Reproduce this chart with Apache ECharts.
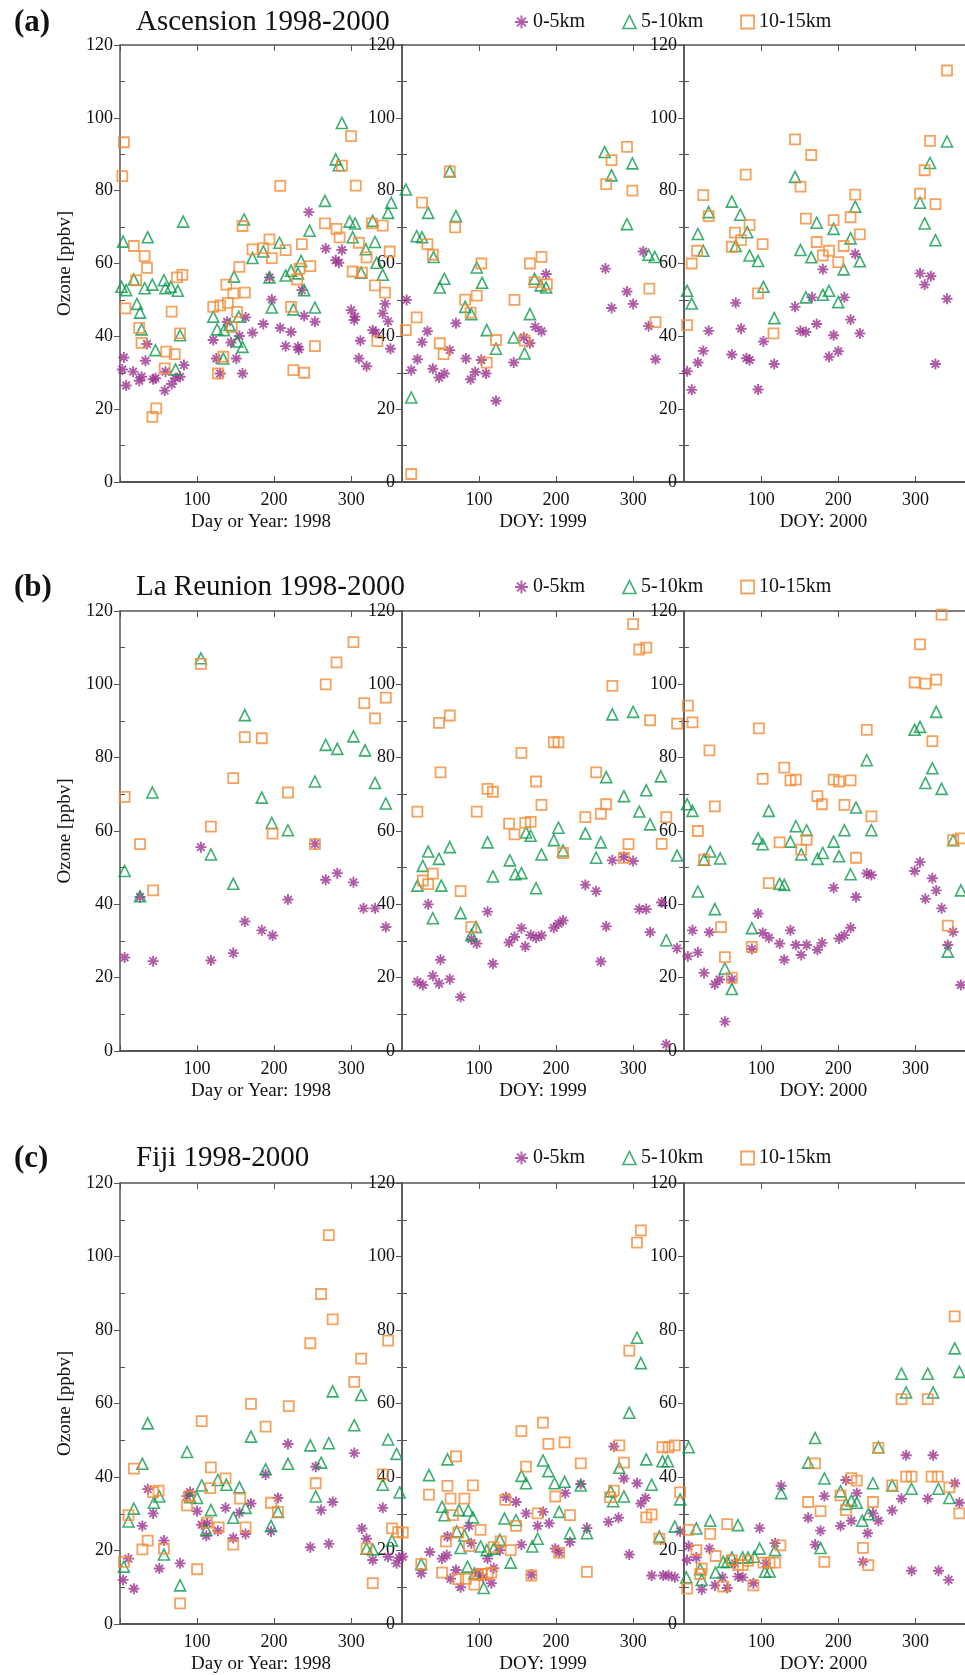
<!DOCTYPE html>
<html>
<head>
<meta charset="utf-8">
<script src="https://cdn.jsdelivr.net/npm/echarts@6.0.0/dist/echarts.min.js"></script>
<style>
  html, body { margin: 0; padding: 0; background: #fff; }
  #main { width: 965px; height: 1675px; }
</style>
</head>
<body>
<div id="main"></div>
<script>
// ozone by altitude layer, [day of year, ppbv]

// Ascension
const asc98Low = [[5,34.2],[3,30.9],[8,26.5],[17,30.3],[25,27.8],[28,28.9],[33,33.3],[35,37.9],[43,28.2],[46,28.5],[58,25.1],[59,30.3],[67,26.9],[72,28.5],[78,28.9],[83,32.1],[121,39],[125,33.9],[130,29.8],[139,44],[144,38.3],[151,33.9],[155,40.1],[159,29.8],[163,45.2],[172,41],[186,43.4],[194,56.2],[197,50.1],[208,42.3],[215,37.3],[222,41.2],[231,37.1],[232,36.4],[236,52.7],[239,45.6],[245,74.1],[253,44],[267,64.1],[280,60.9],[284,60.2],[288,63.7],[300,47.2],[304,44.5],[305,45.4],[310,33.9],[312,38.8],[320,31.8],[328,41.7],[332,41],[341,46.3],[344,48.9],[348,44.1],[351,36.6]];
const asc98Mid = [[4,66],[2,53.6],[8,52.7],[18,55.6],[22,48.9],[26,46.5],[28,41.9],[32,53.2],[36,67.2],[42,54.2],[46,36.2],[57,55.4],[59,53.2],[66,53.6],[72,30.9],[75,52.5],[78,40.3],[82,71.5],[121,45.4],[126,41.9],[134,33.9],[135,41.7],[142,43.1],[148,56.4],[152,38.6],[154,45.4],[159,37.1],[161,72.1],[172,61.5],[186,63.3],[194,56.2],[197,47.9],[207,65.7],[215,56.7],[222,58],[225,47.4],[231,57.3],[235,60.7],[239,52.7],[246,69],[253,47.9],[266,77.2],[280,88.6],[284,87],[288,98.6],[298,71.5],[302,67.2],[305,71],[313,57.5],[319,63.9],[328,71.7],[331,65.9],[333,60.2],[341,56.9],[348,73.9],[352,76.7]];
const asc98High = [[3,84],[5,93.3],[7,47.7],[18,64.8],[21,55.4],[25,42.3],[28,38.2],[32,62],[35,58.8],[42,17.9],[47,20.2],[58,31.2],[60,35.8],[67,46.8],[71,35.1],[74,56.2],[78,40.8],[81,56.9],[121,48.1],[127,29.8],[130,48.5],[134,34.4],[138,54.2],[140,49.2],[145,42.6],[147,51.8],[152,46.7],[155,59.1],[159,70.3],[162,52],[172,63.9],[186,64.2],[194,66.6],[197,61.5],[208,81.3],[215,63.7],[222,48.1],[225,30.7],[230,55.6],[233,58.6],[236,65.3],[239,30],[247,59.3],[253,37.3],[266,71],[281,69.5],[285,67.2],[288,86.9],[300,95],[302,57.8],[306,81.4],[310,65.7],[314,57.5],[320,61.7],[327,71],[331,54],[334,38.7],[341,70.4],[344,52],[350,63.3]];
const asc99Low = [[6,50],[12,30.7],[20,33.7],[26,38.4],[33,41.4],[40,31.1],[48,28.7],[55,29.8],[62,36.2],[70,43.6],[83,33.9],[89,28.2],[95,30.2],[103,33.5],[109,29.8],[122,22.3],[145,32.8],[158,39.7],[166,38.1],[173,42.6],[181,41.4],[187,57.1],[264,58.6],[272,47.8],[292,52.3],[300,48.9],[313,63.3],[320,42.8],[329,33.7]];
const asc99Mid = [[5,80.3],[12,23.2],[19,67.5],[26,67.2],[34,73.9],[41,61.8],[49,53.4],[55,55.8],[62,85.3],[70,73],[82,48.1],[90,46.1],[97,58.9],[104,54.7],[110,41.7],[122,36.6],[145,39.7],[159,35.3],[166,46.1],[172,55.8],[180,54],[187,53.4],[263,90.6],[272,84.2],[292,70.8],[299,87.5],[320,62.4],[328,61.8]];
const asc99High = [[5,41.7],[12,2.2],[19,45.2],[26,76.7],[33,65.3],[40,62.4],[49,38.1],[54,35.1],[62,85.3],[69,69.9],[82,50.1],[89,46.5],[97,51.2],[103,60],[110,32.8],[122,39],[146,50],[159,38.8],[166,60],[172,54.9],[181,61.8],[188,54.3],[265,81.8],[272,88.4],[292,92],[299,80],[321,53.1],[329,43.9]];
const asc00Low = [[4,30.4],[10,25.3],[18,32.8],[25,36],[32,41.5],[62,35],[67,49.2],[74,42.1],[81,34],[85,33.5],[96,25.4],[103,38.6],[117,32.4],[144,48.1],[151,41.5],[158,41.2],[166,50.7],[172,43.4],[180,58.4],[188,34.4],[194,40.3],[200,35.9],[208,50.7],[216,44.6],[222,62.6],[228,40.8],[306,57.3],[312,54.2],[320,56.5],[326,32.4],[341,50.3]];
const asc00Mid = [[4,52.5],[10,49],[18,68.1],[25,63.5],[32,74.1],[62,77],[67,64.8],[73,73.4],[82,68.6],[85,62.2],[96,60.7],[103,53.6],[117,45],[144,83.8],[151,63.7],[158,50.7],[165,61.7],[172,71.2],[180,51.4],[188,52.5],[194,69.5],[200,49.4],[207,58.4],[216,66.9],[222,75.6],[228,60.6],[306,76.7],[312,71],[319,87.6],[326,66.4],[341,93.5]];
const asc00High = [[4,43.1],[10,60],[17,63.5],[25,78.8],[32,73],[62,64.6],[66,68.5],[74,66.4],[80,84.4],[85,70.6],[96,51.8],[102,65.3],[116,40.8],[144,94.1],[151,81.1],[158,72.3],[165,89.8],[172,65.9],[180,62.2],[188,63.5],[194,71.9],[200,60.4],[207,64.8],[216,72.7],[222,78.9],[228,68],[306,79.2],[312,85.6],[319,93.7],[326,76.3],[341,113]];

// La Reunion
const reu98Low = [[6,25.5],[26,42],[43,24.5],[105,55.6],[118,24.7],[147,26.7],[162,35.3],[184,32.9],[198,31.5],[218,41.3],[253,56.5],[267,46.7],[282,48.5],[303,46],[316,38.9],[331,38.9],[345,33.8]];
const reu98Mid = [[6,49.1],[26,42.2],[42,70.5],[105,107.1],[118,53.6],[147,45.6],[162,91.6],[184,69.1],[197,62.2],[218,60.2],[253,73.5],[267,83.5],[282,82.4],[303,85.8],[318,82],[331,73.1],[345,67.5]];
const reu98High = [[6,69.3],[26,56.4],[43,43.8],[105,105.6],[118,61.2],[147,74.4],[162,85.6],[184,85.3],[198,59.3],[218,70.5],[253,56.4],[267,100],[281,106],[303,111.5],[317,94.9],[331,90.7],[345,96.4]];
const reu99Low = [[20,18.9],[27,18],[34,40],[40,20.5],[48,18.4],[50,24.9],[62,19.6],[76,14.7],[90,30.5],[97,29.3],[111,38],[118,23.8],[139,29.6],[146,31.1],[155,33.5],[160,28.5],[167,31.6],[174,30.9],[181,31.5],[197,33.6],[203,34.7],[209,35.6],[238,45.3],[252,43.6],[258,24.4],[265,34],[273,52],[288,52.9],[300,51.8],[308,38.7],[317,38.7],[322,32.4],[337,40.5],[343,1.8],[357,28]];
const reu99Mid = [[20,45.1],[27,50.5],[34,54.4],[40,36.2],[48,52.4],[51,45.1],[62,55.6],[76,37.6],[90,31.6],[96,33.8],[111,56.9],[118,47.6],[140,52],[147,48.2],[155,48.5],[161,59.6],[167,58.7],[174,44.4],[181,53.6],[197,57.5],[203,60.9],[209,54.7],[238,59.3],[252,52.7],[258,56.9],[265,74.7],[273,91.8],[288,69.5],[300,92.5],[308,65.3],[317,71.1],[322,61.8],[336,74.9],[343,30.2],[357,53.3]];
const reu99High = [[20,65.3],[27,46.5],[34,45.5],[40,48.4],[48,89.5],[50,76],[62,91.5],[76,43.6],[90,33.8],[97,65.3],[111,71.5],[118,70.7],[139,62],[146,59.1],[155,81.3],[160,62.2],[167,62.5],[174,73.5],[181,67.1],[197,84.2],[203,84.2],[209,54],[238,63.8],[252,76],[258,64.7],[265,67.3],[273,99.6],[288,52.7],[294,56.4],[300,116.4],[308,109.5],[317,110],[322,90.2],[337,56.5],[343,63.8],[357,89.3]];
const reu00Low = [[5,25.8],[11,32.9],[18,26.9],[26,21.3],[33,32.4],[40,18.2],[46,19.5],[53,8],[62,19.5],[88,27.8],[96,37.5],[102,32.2],[110,30.9],[124,29.3],[130,24.9],[138,32.9],[145,28.9],[152,26.2],[159,28.9],[173,27.6],[179,29.5],[194,44.5],[201,30.7],[208,31.6],[216,33.6],[223,42],[237,48.4],[243,48],[299,49.1],[306,51.5],[313,41.5],[322,47.1],[327,43.8],[334,38.9],[342,28.9],[349,32.5],[359,18]];
const reu00Mid = [[4,67.3],[11,65.5],[18,43.5],[26,52.2],[34,54.4],[40,38.7],[47,52.5],[53,22.5],[62,16.9],[88,33.5],[96,58],[102,56.4],[110,65.5],[124,45.6],[130,45.3],[138,57.1],[145,61.3],[152,53.6],[159,60.2],[173,52.4],[180,54],[194,57.1],[201,53.1],[208,60.2],[216,48.2],[223,66.4],[237,79.3],[243,60.2],[299,87.6],[306,88.4],[313,73.1],[322,77.1],[327,92.5],[334,71.5],[342,27.1],[349,57.5],[359,43.8]];
const reu00High = [[5,94.2],[11,89.6],[18,60],[26,52.2],[33,82],[40,66.7],[48,33.8],[53,25.6],[62,20],[88,28.4],[97,88],[102,74.2],[110,45.8],[124,56.9],[130,77.3],[138,73.8],[145,74],[152,54.9],[159,57.6],[173,69.5],[179,67.3],[194,74],[201,73.5],[208,67.1],[216,73.8],[223,52.7],[237,87.6],[243,64],[299,100.5],[306,110.9],[313,100.2],[322,84.5],[327,101.3],[334,119],[342,34.2],[349,57.5],[359,58]];

// Fiji
const fij98Low = [[4,12],[11,17.8],[18,9.6],[29,26.7],[36,36.7],[43,30.1],[51,15.1],[57,22.7],[78,16.5],[87,34.8],[91,35.9],[100,30.7],[106,27],[112,24],[113,27.4],[127,25.4],[137,31.6],[147,23.4],[155,30.3],[163,24.5],[170,32.8],[189,40.7],[196,25.2],[205,34.3],[218,49],[247,20.9],[254,42.8],[261,31],[271,21.8],[276,33.2],[304,46.5],[314,26],[320,23.2],[328,17.4],[341,31.6],[348,18.3],[359,16.5],[362,18]];
const fij98Mid = [[5,15.6],[11,27.9],[18,31.4],[29,43.6],[36,54.6],[44,33],[51,34.7],[57,18.9],[78,10.5],[87,46.8],[91,34.5],[100,34.3],[106,37.7],[112,25.6],[118,31],[127,39.2],[138,37.9],[147,28.9],[155,37.2],[163,31.6],[170,51],[189,42.1],[196,26.7],[205,30.5],[218,43.6],[247,48.6],[254,34.7],[261,43.9],[271,49.2],[276,63.3],[304,54.1],[313,62.3],[320,20.5],[328,20.3],[341,37.9],[348,50.2],[353,22.7],[359,46.3],[363,35.8]];
const fij98High = [[5,16.9],[11,29.6],[18,42.3],[29,20.3],[36,22.7],[43,35.9],[50,36.3],[57,20.5],[78,5.6],[87,32.3],[90,34.7],[100,14.9],[106,55.2],[113,27.6],[117,37],[118,42.6],[128,26.3],[137,39.6],[147,21.6],[156,34.1],[163,26.3],[170,59.9],[189,53.7],[196,33],[205,30.5],[219,59.3],[247,76.4],[254,38.3],[261,89.8],[271,105.8],[276,82.9],[304,65.9],[313,72.2],[320,20.5],[328,11.1],[341,40.7],[348,77.1],[353,26],[361,25]];
const fij99Low = [[1,18.3],[25,13.8],[36,19.6],[52,17.8],[58,18.7],[59,23.8],[63,12.3],[70,14.7],[76,10],[87,26.7],[90,22],[98,13.8],[105,12.7],[111,17.8],[116,11.1],[119,15.2],[127,20.1],[135,34.5],[148,33.2],[155,21.6],[161,30.1],[168,13.4],[176,26.7],[183,30.5],[191,27.4],[199,20.5],[204,19.4],[212,35.6],[218,22.3],[232,38.1],[240,26.1],[268,27.8],[275,48.3],[281,28.9],[288,39.6],[295,18.9],[305,38.3],[310,32.8],[316,34.3],[324,13.2],[339,13.2],[346,13.2],[354,12.7],[361,25.2]];
const fij99Mid = [[25,16.3],[35,40.5],[52,31.9],[55,29.6],[59,44.8],[71,25.2],[74,31],[76,20.7],[81,24.1],[85,15.6],[86,30.9],[92,29],[94,13.8],[102,21.1],[106,9.8],[110,20.1],[119,20.5],[127,22.9],[133,28.7],[141,16.7],[148,28.3],[155,40.3],[161,38.3],[169,21.1],[176,23.2],[183,44.5],[190,41.6],[198,38.3],[204,30.5],[211,38.7],[218,24.7],[232,37.7],[240,24.7],[271,36.1],[274,33.4],[282,42.5],[288,34.7],[295,57.5],[305,77.9],[310,71],[317,44.8],[324,37.9],[334,23.8],[338,44.3],[345,44.3],[354,26.5],[361,33.9]];
const fij99High = [[1,24.9],[25,16.3],[35,35.2],[52,14],[57,22.5],[59,37.6],[63,34.1],[66,29.6],[70,45.6],[73,24.9],[73,12.2],[81,34.1],[83,12.3],[87,21.2],[92,37.7],[94,10.7],[98,13.4],[102,25.6],[104,13.6],[111,13.6],[116,14],[119,20.9],[128,22.5],[134,33.8],[141,20.1],[148,26.7],[155,52.5],[161,42.8],[168,13.2],[176,30.1],[183,54.8],[190,49],[199,34.7],[204,19.4],[211,49.4],[218,29.6],[232,43.7],[240,14.2],[270,34.5],[275,36.3],[282,48.6],[288,43.9],[295,74.4],[305,103.8],[310,107.1],[317,29],[324,29.8],[334,23.2],[338,48.1],[346,48.1],[354,48.6],[361,35.8]];
const fij00Low = [[4,17.4],[6,21.2],[16,18.1],[23,9.4],[33,20.5],[40,10.5],[50,12.7],[56,9.8],[66,16.5],[70,12.9],[76,12.7],[90,11.1],[98,26.1],[106,16.5],[118,22],[126,37.6],[161,28.9],[170,21.6],[177,25.4],[182,34.8],[203,26.7],[210,39.2],[217,28.1],[224,35.6],[232,16.9],[238,24.7],[245,30.1],[252,28.1],[270,30.9],[282,34.1],[288,45.9],[295,14.5],[316,34.1],[323,45.9],[330,14.5],[343,12],[351,38.3],[357,33]];
const fij00Mid = [[3,12.7],[6,48.1],[16,26],[21,14.9],[23,12],[34,28.1],[41,14],[51,16.9],[56,16.9],[62,18.1],[70,26.9],[76,18.1],[83,18.1],[91,18.3],[98,20.5],[105,14.2],[111,14.3],[118,20.1],[126,35.6],[161,43.9],[170,50.6],[177,20.7],[182,39.6],[203,36.1],[210,32.7],[217,33.6],[224,33],[231,28.1],[239,29.9],[245,38.3],[252,48.1],[270,37.7],[282,68.1],[288,63],[295,36.8],[316,68.1],[323,63],[330,36.8],[344,34.3],[351,75],[357,68.6]];
const fij00High = [[4,9.6],[6,25.6],[16,20.1],[21,13.6],[23,15.1],[34,24.5],[41,18.5],[51,10.2],[56,27.2],[62,17.4],[70,16],[76,16],[83,17.2],[90,10.5],[103,16.7],[111,16.7],[118,16.7],[125,21.4],[161,33.2],[170,43.7],[177,30.7],[182,16.9],[203,35],[210,31],[217,39.7],[224,39],[232,20.7],[239,16],[245,33.2],[252,47.9],[270,37.7],[282,61.2],[288,40.1],[295,40.1],[316,61.2],[321,40.1],[329,40.1],[344,37.2],[351,83.7],[357,30.1]];

const layerNames = ["0-5km", "5-10km", "10-15km"];
const yearLabels = ["Day or Year: 1998", "DOY: 1999", "DOY: 2000"];

const serif = "'Liberation Serif', 'Times New Roman', 'DejaVu Serif', serif";
const purple = "#9b3590";
const green = "#0b9a4c";
const orange = "#f28b36";
const axisColor = "#555";
const asterisk = "path://M5,0L5,10M0,5L10,5M1.6,1.6L8.4,8.4M1.6,8.4L8.4,1.6";

// 每一行一个站点
const stations = [
  { tag: "(a)", title: "Ascension 1998-2000", top: 45, height: 437, head: 19,
    data: [[asc98Low, asc98Mid, asc98High], [asc99Low, asc99Mid, asc99High], [asc00Low, asc00Mid, asc00High]] },
  { tag: "(b)", title: "La Reunion 1998-2000", top: 611, height: 440, head: 584,
    data: [[reu98Low, reu98Mid, reu98High], [reu99Low, reu99Mid, reu99High], [reu00Low, reu00Mid, reu00High]] },
  { tag: "(c)", title: "Fiji 1998-2000", top: 1183, height: 441, head: 1155,
    data: [[fij98Low, fij98Mid, fij98High], [fij99Low, fij99Mid, fij99High], [fij00Low, fij00Mid, fij00High]] },
];
// 2000 年的面板在右边被裁掉：加宽并按比例放大 max，保持每天的像素宽度
const gridLefts = [120, 402, 684];
const gridWidths = [282, 282, 290];
const xMaxes = [366, 366, 376];

const layerStyle = [
  { symbol: asterisk, symbolSize: 11, itemStyle: { color: "transparent", borderColor: purple, borderWidth: 1.9 } },
  { symbol: "triangle", symbolSize: 11, itemStyle: { color: "transparent", borderColor: green, borderWidth: 1.6 } },
  { symbol: "rect", symbolSize: 10, itemStyle: { color: "transparent", borderColor: orange, borderWidth: 1.8 } },
];

const grid = [], xAxis = [], yAxis = [], series = [], title = [], legend = [];
const lineStyle = { color: axisColor, width: 1.5 };

stations.forEach((st, r) => {
  title.push({ text: st.tag, left: 9, top: st.head - 17,
    textStyle: { fontFamily: serif, fontSize: 31, fontWeight: "bold", color: "#111" } });
  title.push({ text: st.title, left: 131, top: st.head - 16,
    textStyle: { fontFamily: serif, fontSize: 29, fontWeight: "normal", color: "#111" } });
  legend.push({
    left: 509, top: st.head - 12, itemGap: 37, itemWidth: 13, itemHeight: 13,
    selectedMode: false,
    textStyle: { fontFamily: serif, fontSize: 20, color: "#111" },
    data: layerNames.map((n, k) => ({ name: n, icon: layerStyle[k].symbol,
      itemStyle: layerStyle[k].itemStyle })),
  });

  st.data.forEach((yearData, c) => {
    const g = grid.length;
    grid.push({ left: gridLefts[c], top: st.top, width: gridWidths[c], height: st.height,
      outerBoundsMode: "none", containLabel: false });
    const xMax = xMaxes[c];

    // 下方 x 轴
    xAxis.push({
      gridIndex: g, type: "value", position: "bottom", min: 0, max: xMax, interval: 100,
      name: yearLabels[c], nameLocation: "middle", nameGap: 31,
      nameTextStyle: { fontFamily: serif, fontSize: 19, color: "#111",
        padding: c === 2 ? [0, 11, 0, 0] : 0 },
      axisLine: { onZero: false, lineStyle: { color: axisColor, width: 2 } },
      axisTick: { inside: true, length: 6, lineStyle: { color: axisColor } },
      axisLabel: { margin: 9, fontFamily: serif, fontSize: 18, color: "#111",
        formatter: v => (v > 0 && v < 366 ? String(v) : "") },
      splitLine: { show: false },
    });
    // 上方 x 轴（只画刻度）
    xAxis.push({
      gridIndex: g, type: "value", position: "top", min: 0, max: xMax, interval: 100,
      axisLine: { onZero: false, lineStyle: lineStyle },
      axisTick: { inside: true, length: 6, lineStyle: { color: axisColor } },
      axisLabel: { show: false }, splitLine: { show: false },
    });
    // 左侧 y 轴：标签 + 外刻度
    yAxis.push({
      gridIndex: g, type: "value", position: "left", min: 0, max: 120, interval: 20,
      name: c === 0 ? "Ozone [ppbv]" : "", nameLocation: "middle", nameGap: 45,
      nameTextStyle: { fontFamily: serif, fontSize: 19, color: "#111" },
      axisLine: { onZero: false, lineStyle: lineStyle },
      axisTick: { inside: false, length: 6, lineStyle: { color: axisColor } },
      axisLabel: { margin: 7, fontFamily: serif, fontSize: 18, color: "#111" },
      splitLine: { show: false },
    });
    // 左侧内刻度
    yAxis.push({
      gridIndex: g, type: "value", position: "left", min: 0, max: 120, interval: 10,
      axisLine: { show: false, onZero: false },
      axisTick: { inside: true, length: 5, lineStyle: { color: axisColor }, customValues: [10, 30, 50, 70, 90, 110] },
      axisLabel: { show: false }, splitLine: { show: false },
    });
    // 右侧框线
    yAxis.push({
      gridIndex: g, type: "value", position: "right", min: 0, max: 120, interval: 10,
      axisLine: { onZero: false, lineStyle: lineStyle },
      axisTick: { inside: true, length: 5, lineStyle: { color: axisColor }, customValues: [10, 30, 50, 70, 90, 110] },
      axisLabel: { show: false }, splitLine: { show: false },
    });

    yearData.forEach((pts, k) => {
      series.push({
        type: "scatter", name: layerNames[k],
        xAxisIndex: 2 * g, yAxisIndex: 3 * g,
        data: pts,
        symbol: layerStyle[k].symbol, symbolSize: layerStyle[k].symbolSize,
        itemStyle: layerStyle[k].itemStyle,
        clip: false,
        emphasis: { disabled: true },
        z: 3,
      });
    });
  });
});

const chart = echarts.init(document.getElementById("main"));
chart.setOption({
  backgroundColor: "#fff",
  animation: false,
  title, legend, grid, xAxis, yAxis, series,
});
</script>
</body>
</html>
